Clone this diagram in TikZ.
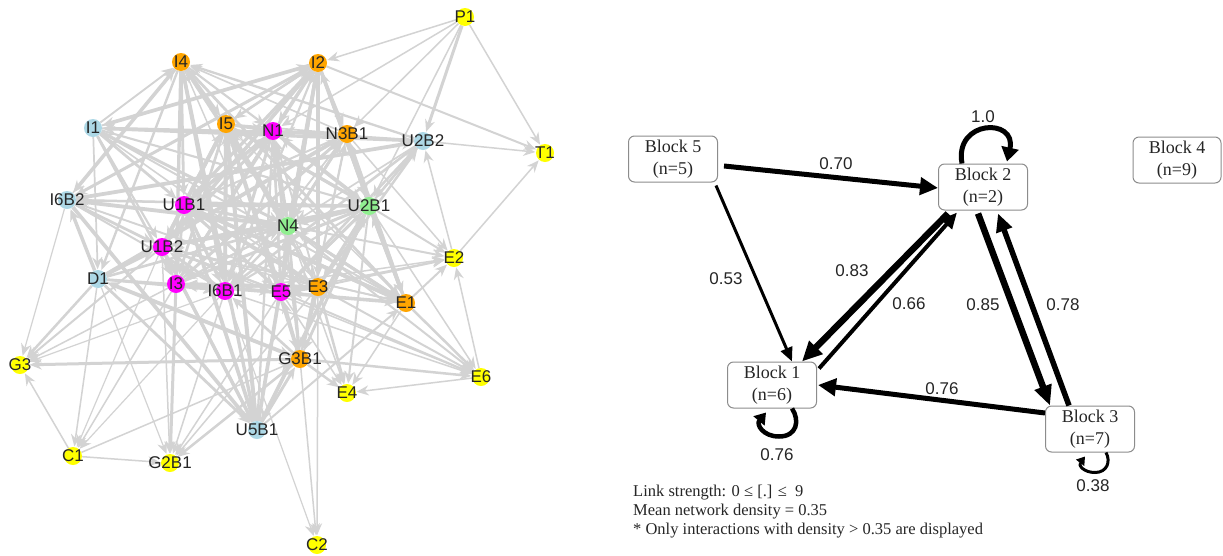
\documentclass[tikz,border=0pt]{standalone}
\usepackage{fontspec}
\setmainfont{Liberation Serif}
\newfontfamily\netfont{Liberation Sans}
\usetikzlibrary{arrows.meta,calc}

\definecolor{edgegray}{RGB}{211,211,211}
\definecolor{cOrange}{RGB}{255,165,0}
\definecolor{cMagenta}{RGB}{255,0,255}
\definecolor{cBlue}{RGB}{173,216,230}
\definecolor{cGreen}{RGB}{144,238,144}
\definecolor{cYellow}{RGB}{255,255,0}
\definecolor{boxgray}{RGB}{140,140,140}

\pgfdeclarelayer{paper}
\pgfdeclarelayer{edges}
\pgfsetlayers{paper,edges,main}

\tikzset{
  dot/.style={circle, inner sep=0pt, minimum size=18pt, draw=none},
  netlabel/.style={inner sep=0pt, text=black!85, font=\netfont\fontsize{17}{17}\selectfont},
  netedge/.style={draw=edgegray, -{Stealth[length=12pt,width=10pt]}, shorten >=0.5pt},
  block/.style={draw=boxgray, line width=1pt, rounded corners=6pt, minimum width=89pt,
    minimum height=46pt, inner sep=0pt, align=center, text=black!85,
    font=\fontsize{18}{22}\selectfont},
  flow/.style={draw=black},
  elabel/.style={inner sep=0pt, text=black!85, font=\netfont\fontsize{17}{17}\selectfont},
  note/.style={inner sep=0pt, text=black!85, font=\fontsize{16.5}{19}\selectfont},
}

% block memberships of the actors
\def\Bone{N1,U1B1,U1B2,I3,I6B1,E5}
\def\Btwo{N4,U2B1}
\def\Bthree{I4,I2,I5,N3B1,E3,E1,G3B1}
\def\Bfive{I1,U2B2,I6B2,D1,U5B1}

% ties from every actor of #1 to every actor of #2, kept with probability #3
\newcommand\blocklinks[3]{%
  \foreach \a in #1 {%
    \foreach \b in #2 {%
      \pgfmathsetmacro\rr{rnd}%
      \pgfmathsetmacro\ww{1.4+2.6*rnd}%
      \edef\ta{\a}\edef\tb{\b}%
      \ifx\ta\tb\else
        \ifdim\rr pt<#3pt
          \draw[netedge,line width=\ww pt] (\a) -- (\b);
        \fi
      \fi
    }%
  }%
}

\begin{document}
\begin{tikzpicture}[x=1pt,y=-1pt]
\useasboundingbox (0,0) rectangle (1223,555);
\begin{pgfonlayer}{paper}
  \fill[white] (0,0) rectangle (1223,555);
\end{pgfonlayer}

% ---------------- actor network ----------------
\foreach \n/\c/\x/\y in {
  P1/cYellow/465/17, I4/cOrange/181/62, I2/cOrange/318/63,
  I1/cBlue/93/128, I5/cOrange/226/124, N1/cMagenta/273/131,
  N3B1/cOrange/347/134, U2B2/cBlue/423/141, T1/cYellow/545/153,
  I6B2/cBlue/67/200, U1B1/cMagenta/184/205, N4/cGreen/288/226,
  U2B1/cGreen/369/206, U1B2/cMagenta/162/247, D1/cBlue/98/279,
  I3/cMagenta/176/284, I6B1/cMagenta/225/291, E5/cMagenta/281/292,
  E3/cOrange/318/287, E2/cYellow/454/258, E1/cOrange/406/303,
  G3/cYellow/20/365, G3B1/cOrange/300/359, E6/cYellow/481/377,
  E4/cYellow/347/393, C1/cYellow/73/456, G2B1/cYellow/170/463,
  U5B1/cBlue/257/430, C2/cYellow/317/545}
  \node[dot, fill=\c, label={[netlabel]center:\n}] (\n) at (\x,\y) {};

\begin{pgfonlayer}{edges}
  \pgfmathsetseed{11}
  \blocklinks\Bone\Bone{0.76}
  \blocklinks\Bone\Btwo{0.66}
  \blocklinks\Bone\Bthree{0.3}
  \blocklinks\Bone\Bfive{0.12}
  \blocklinks\Btwo\Bone{0.83}
  \blocklinks\Btwo\Btwo{1.0}
  \blocklinks\Btwo\Bthree{0.85}
  \blocklinks\Btwo\Bfive{0.2}
  \blocklinks\Bthree\Bone{0.76}
  \blocklinks\Bthree\Btwo{0.78}
  \blocklinks\Bthree\Bthree{0.38}
  \blocklinks\Bthree\Bfive{0.2}
  \blocklinks\Bfive\Bone{0.53}
  \blocklinks\Bfive\Btwo{0.70}
  \blocklinks\Bfive\Bthree{0.3}
  \blocklinks\Bfive\Bfive{0.3}
  % ties of the peripheral actors
  \foreach \s/\t/\w in {
    P1/T1/1.5, P1/U2B2/3, P1/N3B1/1.5, P1/N1/1.5, P1/I2/1.5, P1/U2B1/1.5,
    I2/T1/2, U2B2/T1/1.5, E2/T1/1.5,
    U2B1/E2/2, E6/E2/1.5, E1/E2/2, E2/U2B2/1.5, N4/E2/2, E3/E2/2,
    E5/E2/1.5, I6B1/E2/1.5, N3B1/E2/1.5,
    E1/E6/2.5, E3/E6/2, G3B1/E6/2.5, E5/E6/2, U2B1/E6/1.5, N4/E6/2,
    I6B1/E6/1.5, E6/E4/1.5, U1B2/E6/1.5,
    G3B1/E4/2.5, E1/E4/1.5, E3/E4/2.5, E5/E4/1.5, U2B1/E4/2, N4/E4/1.5,
    D1/G3/2.5, G3B1/G3/3, C1/G3/1.5, U1B2/G3/2, I3/G3/1.5, I6B2/G3/1.2, I6B1/G3/1.2,
    D1/C1/1.5, I3/C1/1.5, C1/G3B1/1.5, C1/G2B1/1.5, U1B2/C1/1.2, I6B1/C1/1.2,
    I3/G2B1/3, G3B1/G2B1/2.5, I6B1/G2B1/1.5, E5/G2B1/1.5, U1B2/G2B1/1.5,
    D1/G2B1/1.2, E3/G2B1/1.5,
    G3B1/C2/1.5, E3/C2/1.5, I6B1/C2/1.2}
    \draw[netedge, line width=\w pt] (\s) -- (\t);
\end{pgfonlayer}

% ---------------- block model ----------------
\node[block] (b5) at (673,159) {Block 5\\(n=5)};
\node[block] (b2) at (983,187) {Block 2\\(n=2)};
\node[block, minimum width=88pt] (b4) at (1177,160) {Block 4\\(n=9)};
\node[block] (b1) at (772,385) {Block 1\\(n=6)};
\node[block] (b3) at (1090,429) {Block 3\\(n=7)};

\draw[flow, line width=5pt, -{Triangle[length=18pt,width=17pt]}]
  ($(b5.east)+(6,7)$) -- ($(b2.west)+(0,1)$);
\draw[flow, line width=3pt, -{Triangle[length=14pt,width=12pt]}]
  ($(b5.south)+(43,3)$) -- ($(b1.north)+(20,0)$);
\draw[flow, line width=6.5pt, -{Triangle[length=20pt,width=18pt]}]
  ($(b2.south west)+(10,3)$) -- ($(b1.north)+(30,0)$);
\draw[flow, line width=4pt, -{Triangle[length=16pt,width=14pt]}]
  ($(b1.north east)+(2,7)$) -- ($(b2.south west)+(19,2)$);
\draw[flow, line width=6.5pt, -{Triangle[length=20pt,width=17pt]}]
  ($(b2.south)+(-5,3)$) -- ($(b3.north west)+(5,0)$);
\draw[flow, line width=5.5pt, -{Triangle[length=18pt,width=16pt]}]
  ($(b3.north west)+(24,0)$) -- ($(b2.south)+(15,3)$);
\draw[flow, line width=5pt, -{Triangle[length=18pt,width=17pt]}]
  ($(b3.west)+(0,-16)$) -- ($(b1.east)+(1,0)$);

% loops
\draw[flow, line width=5pt, -{Triangle[length=14pt,width=17pt]}]
  ($(b2.north)+(-21,0)$) .. controls +(-8,-44) and +(10,-44) .. ($(b2.north)+(24,-2)$);
\draw[flow, line width=4.5pt, -{Triangle[length=11pt,width=14pt]}]
  ($(b1.south)+(20,0)$) .. controls +(8,12) and +(18,0) .. ($(b1.south)+(7,28)$)
  .. controls +(-16,0) and +(-10,12) .. ($(b1.south)+(-6,4)$);
\draw[flow, line width=3pt, -{Triangle[length=8pt,width=10pt]}]
  ($(b3.south)+(16,0)$) .. controls +(5,9) and +(12,0) .. ($(b3.south)+(5,20)$)
  .. controls +(-11,0) and +(-7,9) .. ($(b3.south)+(-5,4)$);

% densities
\node[elabel] (d52) at (836,164) {0.70};
\node[elabel] (d51) at (726,279) {0.53};
\node[elabel] (d21) at (852,271) {0.83};
\node[elabel] (d12) at (909,304) {0.66};
\node[elabel] (d23) at (983,305) {0.85};
\node[elabel] (d32) at (1063,305) {0.78};
\node[elabel] (d31) at (942,389) {0.76};
\node[elabel] (d22) at (983,117) {1.0};
\node[elabel] (d11) at (777,455) {0.76};
\node[elabel] (d33) at (1093,486) {0.38};

% notes
\node[note, anchor=base west] (t1) at (633,496) {Link strength: 0 ≤ [.] ≤\ \ 9};
\node[note, anchor=base west] (t2) at (633,515) {Mean network density = 0.35};
\node[note, anchor=base west] (t3) at (633,534) {* Only interactions with density > 0.35 are displayed};
\end{tikzpicture}
\end{document}
